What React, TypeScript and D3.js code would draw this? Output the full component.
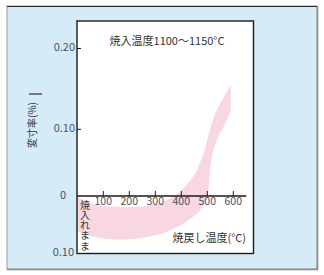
import React from "react";
import * as d3 from "d3";

const xTicks = [100, 200, 300, 400, 500, 600];
const yTickVals = [0.2, 0.1, 0, -0.1];
const yTickLabels = ["0.20", "0.10", "0", "0.10"];

const upperTemp = [0, 50, 100, 200, 300, 350, 380, 420, 460, 480, 495, 507, 525, 550, 573, 590];
const upperVal = [-0.002, -0.012, -0.018, -0.019, -0.015, -0.006, 0.002, 0.017, 0.039, 0.058, 0.077, 0.095, 0.115, 0.132, 0.145, 0.155];

const lowerTemp = [0, 50, 100, 165, 230, 290, 345, 400, 440, 470, 490, 500, 505, 509, 515, 525, 537, 562, 590];
const lowerVal = [-0.061, -0.069, -0.074, -0.076, -0.074, -0.069, -0.062, -0.05, -0.038, -0.026, -0.012, -0.002, 0.012, 0.032, 0.052, 0.07, 0.084, 0.103, 0.122];

const title = "焼入温度1100〜1150°C";
const xTitle = "焼戻し温度(°C)";
const yTitle = "変寸率(%)";
const asQuenched = "焼入れまま";

const FONT = "'Noto Sans CJK JP', 'Noto Sans', sans-serif";

export default function App() {
  const x = d3.scaleLinear().domain([0, 650]).range([77.3, 246.3]);
  const y = d3.scaleLinear().domain([-0.1, 0, 0.1, 0.2]).range([253.5, 196, 129.3, 48.5]);

  const plotL = 77, plotT = 21, plotR = 253.5, plotB = 253.5;

  const line = d3
    .line<[number, number]>()
    .x((d) => x(d[0]))
    .y((d) => y(d[1]))
    .curve(d3.curveMonotoneX);

  const up: [number, number][] = upperTemp.map((t, i) => [t, upperVal[i]]);
  const lo: [number, number][] = lowerTemp.map((t, i) => [t, lowerVal[i]] as [number, number]).reverse();
  const bandPath = (line(up) || "") + "L" + (line(lo) || "").slice(1) + "Z";

  return (
    <svg width={324} height={275} style={{ position: "absolute", left: 0, top: 0 }}>
      <defs>
        <clipPath id="plotclip">
          <rect x={plotL} y={plotT} width={plotR - plotL} height={plotB - plotT} />
        </clipPath>
      </defs>
      {/* outer panel */}
      <rect x={7} y={6} width={310} height={263} fill="#d5ebf8" stroke="#9a9a9a" strokeWidth={1} />
      <line x1={317.5} y1={6} x2={317.5} y2={270} stroke="#8a8a8a" strokeWidth={1.5} />
      <line x1={7} y1={269.5} x2={318} y2={269.5} stroke="#8a8a8a" strokeWidth={1.5} />
      <line x1={7} y1={6.5} x2={317} y2={6.5} stroke="#2a2a2a" strokeWidth={1} />

      {/* plot area */}
      <rect x={plotL} y={plotT} width={plotR - plotL} height={plotB - plotT} fill="#ffffff" />
      <path d={bandPath} fill="#f8d6e2" clipPath="url(#plotclip)" />
      <rect x={plotL} y={plotT} width={plotR - plotL} height={plotB - plotT} fill="none" stroke="#1a1a1a" strokeWidth={1.4} />

      {/* x axis at zero */}
      <line x1={plotL} y1={y(0)} x2={x(650)} y2={y(0)} stroke="#1a1a1a" strokeWidth={1.4} />
      {xTicks.map((t) => (
        <g key={t}>
          <line x1={x(t)} y1={y(0)} x2={x(t)} y2={y(0) - 5} stroke="#1a1a1a" strokeWidth={1} />
          <text x={x(t)} y={y(0) + 6} textAnchor="middle" dominantBaseline="middle" fontSize={10.5} fill="#4a5260" fontFamily={FONT}>
            {t}
          </text>
        </g>
      ))}

      {/* y ticks */}
      {yTickVals.map((v, i) => (
        <g key={i}>
          {(v === 0.2 || v === 0.1) && (
            <line x1={plotL} y1={y(v)} x2={plotL + 4} y2={y(v)} stroke="#1a1a1a" strokeWidth={1} />
          )}
          <text
            x={v === 0 ? 66 : v === -0.1 ? 74 : 75}
            y={y(v)}
            textAnchor="end"
            dominantBaseline="middle"
            fontSize={11}
            fill="#4a5260"
            fontFamily={FONT}
          >
            {yTickLabels[i]}
          </text>
        </g>
      ))}

      {/* titles */}
      <text x={167} y={42} textAnchor="middle" dominantBaseline="middle" fontSize={11} fill="#333" fontFamily={FONT}>
        {title}
      </text>
      <text x={246} y={239} textAnchor="end" dominantBaseline="middle" fontSize={11} fill="#333" fontFamily={FONT}>
        {xTitle}
      </text>
      <text
        x={85}
        y={200}
        style={{ writingMode: "vertical-rl" }}
        textAnchor="start"
        fontSize={10}
        letterSpacing={0.2}
        fill="#333"
        fontFamily={FONT}
      >
        {asQuenched}
      </text>
      <text
        transform="translate(33,125) rotate(-90)"
        textAnchor="middle"
        dominantBaseline="middle"
        fontSize={10}
        fill="#333"
        fontFamily={FONT}
      >
        {yTitle}
      </text>
      <line x1={29} y1={94} x2={42} y2={94} stroke="#3a2a20" strokeWidth={1.2} />
    </svg>
  );
}
